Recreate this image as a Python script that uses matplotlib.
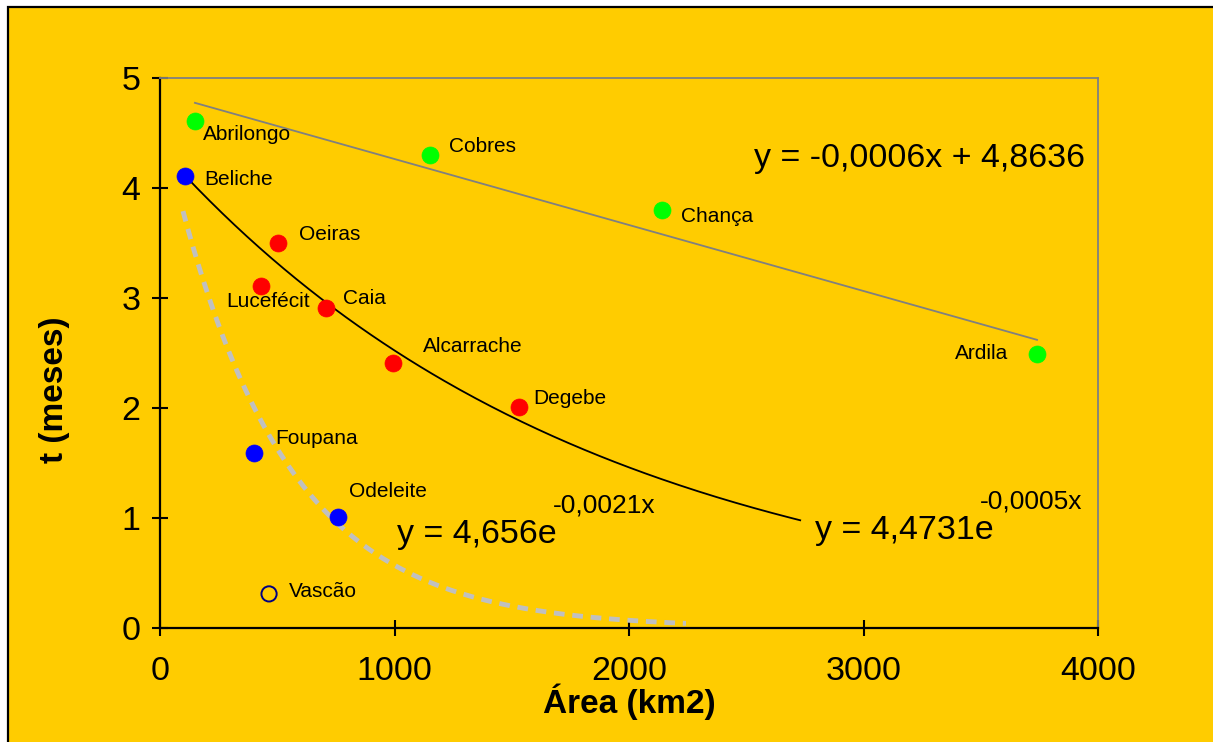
import matplotlib.pyplot as plt
import matplotlib.patches as mpatches
import numpy as np

plt.rcParams['font.family'] = ['Liberation Sans', 'DejaVu Sans']

# dados das bacias
nomes = ['Abrilongo', 'Cobres', 'Chança', 'Ardila',
         'Beliche', 'Foupana', 'Odeleite',
         'Oeiras', 'Lucefécit', 'Caia', 'Alcarrache', 'Degebe',
         'Vascão']
area = [149, 1151, 2141, 3740,
        107, 401, 759,
        503, 431, 708, 994, 1531,
        465]
meses = [4.61, 4.30, 3.80, 2.49,
         4.11, 1.59, 1.01,
         3.50, 3.11, 2.91, 2.41, 2.01,
         0.31]
grupo = ['verde'] * 4 + ['azul'] * 3 + ['vermelho'] * 5 + ['vazio']

# linhas de tendencia (coeficientes)
lin_a, lin_b = -0.0006, 4.8636
exp1_a, exp1_b = 4.36, -0.000547      # curva preta (como desenhada)
exp1_x = (107, 2730)
exp2_a, exp2_b = 4.656, -0.0021       # curva cinzenta tracejada
exp2_x = (98, 2243)

cores = {'verde': '#00FF00', 'azul': '#0000FF', 'vermelho': '#FF0000'}

fig = plt.figure(figsize=(12.13, 7.42), dpi=100)
fig.patch.set_facecolor('white')
px = lambda x, y: (x / 1213, 1 - y / 742)
fundo = mpatches.Rectangle(px(8, 760), 1.1, (760 - 7) / 742, transform=fig.transFigure,
                           facecolor='#FFCC00', edgecolor='black', lw=1.6, zorder=-10)
fig.patches.append(fundo)

ax = fig.add_axes([160 / 1213, 1 - 628 / 742, 938 / 1213, 550 / 742])
ax.set_facecolor('#FFCC00')
ax.patch.set_alpha(0)

# tendencias
xg = [a for a, g in zip(area, grupo) if g == 'verde']
xl = np.array([min(xg), max(xg)])
ax.plot(xl, lin_a * xl + lin_b, color='#808080', lw=1.3, zorder=2)

x1 = np.linspace(*exp1_x, 200)
ax.plot(x1, exp1_a * np.exp(exp1_b * x1), color='black', lw=1.3, zorder=2)

x2 = np.linspace(*exp2_x, 200)
ax.plot(x2, exp2_a * np.exp(exp2_b * x2), color='#C0C0C0', lw=3.5,
        dashes=(2.2, 1.6), zorder=2)

# pontos
for n, a, m, g in zip(nomes, area, meses, grupo):
    if g == 'vazio':
        ax.scatter(a, m, s=120, facecolor='none', edgecolor='#000080', lw=1.4, zorder=3)
    else:
        ax.scatter(a, m, s=150, color=cores[g], edgecolor=cores[g], lw=0.5, zorder=3)

# etiquetas (deslocamento em pixels relativo ao ponto)
desloc = {'Abrilongo': (8, -14, 'left'), 'Cobres': (19, 9, 'left'),
          'Chança': (19, -6, 'left'), 'Ardila': (-29, 1, 'right'),
          'Beliche': (19, -4, 'left'), 'Foupana': (21, 15, 'left'),
          'Odeleite': (11, 25, 'left'), 'Oeiras': (21, 8, 'left'),
          'Lucefécit': (49, -16, 'right'), 'Caia': (17, 9, 'left'),
          'Alcarrache': (30, 16, 'left'), 'Degebe': (14, 8, 'left'),
          'Vascão': (20, 2, 'left')}
for n, a, m in zip(nomes, area, meses):
    dx, dy, ha = desloc[n]
    ax.annotate(n, (a, m), xytext=(dx * 0.72, dy * 0.72), textcoords='offset points',
                ha=ha, va='center', fontsize=15, zorder=4)

# equacoes
ax.text(754, 158, 'y = -0,0006x + 4,8636', transform=None, fontsize=24.5,
        va='center', ha='left')
ax.text(397, 535, 'y = 4,656e', transform=None, fontsize=24.5, va='center', ha='left')
ax.text(553, 506, '-0,0021x', transform=None, fontsize=19, va='center', ha='left')
ax.text(815, 530, 'y = 4,4731e', transform=None, fontsize=24.5, va='center', ha='left')
ax.text(980, 502, '-0,0005x', transform=None, fontsize=19, va='center', ha='left')
for t in ax.texts[-5:]:
    x0, y0 = t.get_position()
    t.set_transform(fig.transFigure)
    t.set_position(px(x0, y0))

ax.set_xlim(0, 4000)
ax.set_ylim(0, 5)
ax.set_xticks([0, 1000, 2000, 3000, 4000])
ax.set_yticks([0, 1, 2, 3, 4, 5])
ax.tick_params(direction='inout', length=12, width=1.5, labelsize=24.5, pad=8)
ax.tick_params(axis='x', pad=14)
for s in ['left', 'bottom']:
    ax.spines[s].set_color('black')
    ax.spines[s].set_linewidth(1.6)
for s in ['top', 'right']:
    ax.spines[s].set_color('#808080')
    ax.spines[s].set_linewidth(1.3)

ax.set_xlabel('Área (km2)', fontsize=24, fontweight='bold', labelpad=-2)
ax.set_ylabel('t (meses)', fontsize=24, fontweight='bold')
ax.yaxis.set_label_coords(-0.096, 0.433)

fig.savefig('out.png', dpi=100, facecolor=fig.get_facecolor())
